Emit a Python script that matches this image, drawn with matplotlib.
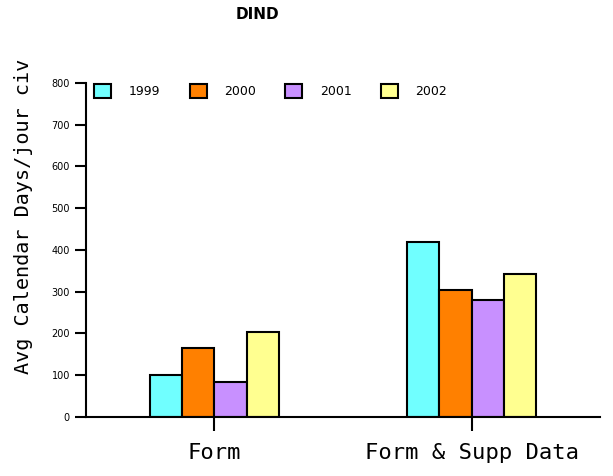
import numpy as np
import matplotlib.pyplot as plt

categories = ['Form', 'Form & Supp Data']
years = ['1999', '2000', '2001', '2002']
values_1999 = [100, 419]
values_2000 = [165, 304]
values_2001 = [84, 280]
values_2002 = [204, 342]
colors = ['#70FFFF', '#FF8000', '#C890FF', '#FFFF90']

series = [values_1999, values_2000, values_2001, values_2002]

fig = plt.figure(figsize=(6.13, 4.76), dpi=100)
ax = fig.add_axes([0.140, 0.124, 0.839, 0.702])

x = np.arange(len(categories))
width = 0.125
for i, (vals, col, lab) in enumerate(zip(series, colors, years)):
    ax.bar(x + (i - 1.5) * width, vals, width, color=col, edgecolor='black',
           linewidth=1.5, label=lab)

ax.set_xlim(-0.5, 1.5)
ax.set_ylim(0, 800)
ax.set_yticks(range(0, 801, 100))
ax.set_xticks(x)
ax.set_xticklabels(categories, fontsize=16, family='DejaVu Sans Mono')
ax.tick_params(axis='y', labelsize=7, length=8, width=1.5)
ax.tick_params(axis='x', length=10, width=1.5, pad=9)
ax.spines['top'].set_visible(False)
ax.spines['right'].set_visible(False)
ax.spines['left'].set_linewidth(1.5)
ax.spines['bottom'].set_linewidth(1.5)
ax.set_ylabel('Avg Calendar Days/jour civ', fontsize=14.5, family='DejaVu Sans Mono')
ax.yaxis.set_label_coords(-0.102, 0.6)

ax.legend(loc='upper left', ncol=4, frameon=False, fontsize=9,
          handlelength=1.35, handleheight=1.35, columnspacing=2.35,
          handletextpad=1.4, bbox_to_anchor=(-0.005, 1.03))

fig.text(0.42, 0.96, 'DIND', fontsize=11, fontweight='bold', ha='center')

fig.savefig('out.png', dpi=100)
